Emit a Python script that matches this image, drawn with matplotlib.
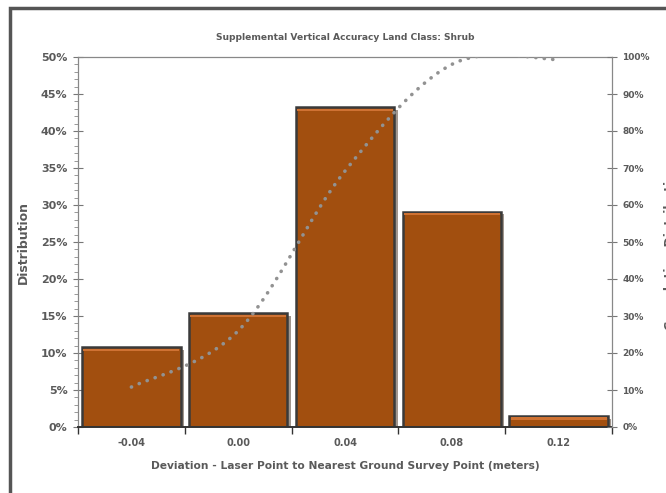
import numpy as np
import matplotlib.pyplot as plt
import matplotlib.patheffects as pe
from matplotlib.patches import Rectangle
from matplotlib.ticker import MultipleLocator, PercentFormatter

# deviation classes (m) and share of points per class (%)
categories = ["-0.04", "0.00", "0.04", "0.08", "0.12"]
distribution = [10.8, 15.4, 43.2, 29.1, 1.5]
cumulative = [10.8, 26.0, 69.2, 98.0, 99.3]

txt = "#5a5a5a"
plt.rcParams["font.family"] = ["DejaVu Sans"]
plt.rcParams["font.weight"] = "bold"
plt.rcParams["axes.labelweight"] = "bold"
plt.rcParams["axes.titleweight"] = "bold"


def smooth(y, n=40):
    # piecewise bezier through every point (office style smoothed line)
    y = np.asarray(y, float)
    x = np.arange(len(y), dtype=float)
    xs, ys = [], []
    for i in range(len(y) - 1):
        p0 = np.array([x[i], y[i]])
        p3 = np.array([x[i + 1], y[i + 1]])
        prev = np.array([x[i - 1], y[i - 1]]) if i > 0 else p0
        nxt = np.array([x[i + 2], y[i + 2]]) if i + 2 < len(y) else p3
        c1 = p0 + (p3 - prev) / 6
        c2 = p3 - (nxt - p0) / 6
        t = np.linspace(0, 1, n)[:, None]
        pts = ((1 - t) ** 3 * p0 + 3 * (1 - t) ** 2 * t * c1
               + 3 * (1 - t) * t ** 2 * c2 + t ** 3 * p3)
        xs.extend(pts[:, 0]); ys.extend(pts[:, 1])
    return np.array(xs), np.array(ys)


fig = plt.figure(figsize=(6.66, 4.93), dpi=100)
fig.patches.append(Rectangle((10 / 666, -0.2), 1.2, 1.2 - 8 / 493,
                             transform=fig.transFigure, fill=False,
                             edgecolor="#555555", linewidth=2.5))

ax = fig.add_axes([78 / 666, 1 - 427 / 493, (612 - 78) / 666, (427 - 57) / 493])
pos = np.arange(len(categories))
bars = ax.bar(pos, distribution, width=0.92, color="#A24F0F",
              edgecolor="#3a3a3a", linewidth=1.8, zorder=2)
for b in bars:
    b.set_path_effects([pe.SimplePatchShadow(offset=(2.5, -2), alpha=0.45),
                        pe.Normal()])
# light bevel along each bar top
ax.bar(pos, [0.3] * len(pos), bottom=np.array(distribution) - 0.5,
       width=0.9, color="#CF7233", linewidth=0, zorder=3)

ax.set_xlim(-0.5, 4.5)
ax.set_ylim(0, 50)
ax.yaxis.set_major_locator(MultipleLocator(5))
ax.yaxis.set_minor_locator(MultipleLocator(1))
ax.yaxis.set_major_formatter(PercentFormatter(decimals=0))
ax.tick_params(axis="y", which="major", direction="inout", length=7,
               width=0.8, colors="#777777", labelcolor=txt, labelsize=8, pad=4)
ax.tick_params(axis="y", which="minor", direction="out", length=3,
               width=0.6, colors="#888888")
ax.set_xticks(pos)
ax.set_xticklabels(categories)
ax.set_xticks(np.arange(-0.5, 5, 1), minor=True)
ax.tick_params(axis="x", which="major", length=0, labelsize=7,
               labelcolor=txt, pad=8)
ax.tick_params(axis="x", which="minor", direction="out", length=5,
               width=1, colors="#333333")
for s in ["left", "top"]:
    ax.spines[s].set_color("#888888")
    ax.spines[s].set_linewidth(0.9)
ax.spines["right"].set_visible(False)
ax.spines["bottom"].set_color("#333333")
ax.spines["bottom"].set_linewidth(1.4)

ax.set_ylabel("Distribution", fontsize=9, color=txt, labelpad=8,
              fontweight="bold")
ax.set_xlabel("Deviation - Laser Point to Nearest Ground Survey Point (meters)",
              fontsize=7.7, color=txt, labelpad=9, fontweight="bold")
ax.set_title("Supplemental Vertical Accuracy Land Class: Shrub",
             fontsize=6.6, color=txt, pad=12, fontweight="bold")

ax2 = ax.twinx()
ax2.set_ylim(0, 100)
ax2.yaxis.set_major_locator(MultipleLocator(10))
ax2.yaxis.set_major_formatter(PercentFormatter(decimals=0))
ax2.tick_params(axis="y", direction="inout", length=7, width=0.8,
                colors="#777777", labelcolor=txt, labelsize=6.5, pad=4)
for s in ["left", "top", "bottom"]:
    ax2.spines[s].set_visible(False)
ax2.spines["right"].set_color("#888888")
ax2.spines["right"].set_linewidth(0.9)

sx, sy = smooth(cumulative)
ax2.plot(sx, sy, color="#929292", linewidth=2.6,
         linestyle=(0, (0.05, 2.3)), dash_capstyle="round", zorder=4)

fig.text(664 / 666, 0.5, "Cumulative Distribution", rotation=90,
         ha="left", va="center", fontsize=9, color=txt, fontweight="bold")

fig.savefig("out.png", dpi=100)
